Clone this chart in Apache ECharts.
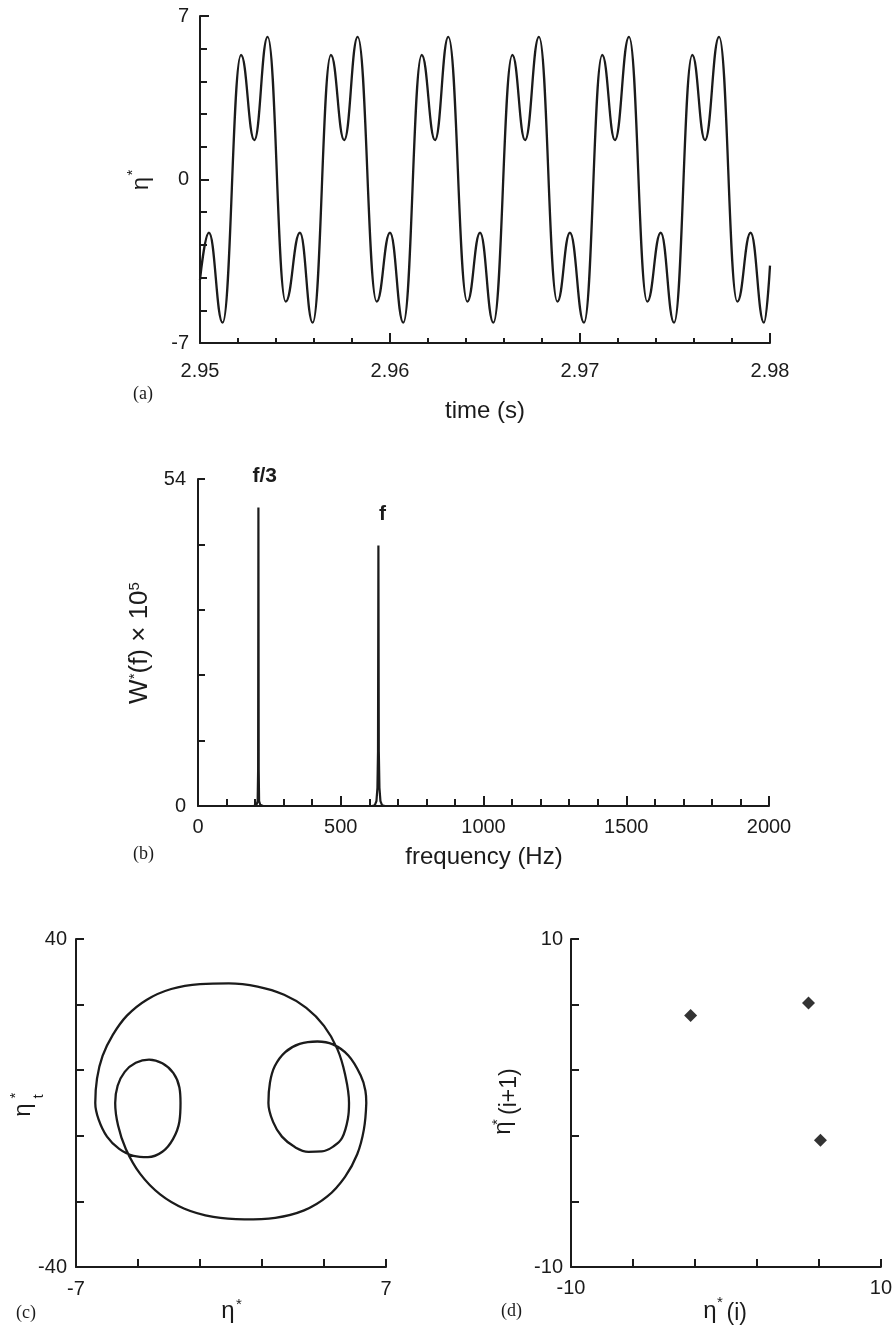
<!DOCTYPE html>
<html><head><meta charset="utf-8">
<script src="https://cdn.jsdelivr.net/npm/echarts@6/dist/echarts.min.js"></script>
<style>html,body{margin:0;padding:0;background:#fff}#main{width:895px;height:1331px}</style>
</head><body><div id="main"></div>
<script>
// ---------- Panel (a): time series, extrema ----------
const timeS = [2.95000, 2.95047, 2.95119, 2.95216, 2.95286, 2.95356, 2.95451, 2.95526, 2.95593,
  2.95689, 2.95759, 2.95830, 2.95930, 2.96000, 2.96070, 2.96167, 2.96237, 2.96307, 2.96407,
  2.96474, 2.96544, 2.96644, 2.96711, 2.96784, 2.96881, 2.96947, 2.97021, 2.97117, 2.97184,
  2.97258, 2.97354, 2.97425, 2.97495, 2.97591, 2.97658, 2.97732, 2.97828, 2.97898, 2.97968, 2.98000];
const etaA = [-4.3, -2.28, -6.13, 5.33, 1.69, 6.11, -5.23, -2.28, -6.13,
  5.33, 1.69, 6.11, -5.23, -2.28, -6.13, 5.33, 1.69, 6.11, -5.23,
  -2.28, -6.13, 5.33, 1.69, 6.11, -5.23, -2.28, -6.13, 5.33, 1.69,
  6.11, -5.23, -2.28, -6.13, 5.33, 1.69, 6.11, -5.23, -2.28, -6.13, -3.69];

// ---------- Panel (b): spectrum ----------
const freqHz = [0, 195, 205, 209, 210.6, 211.6, 212.6, 214, 218, 228,
  610, 619, 625, 628.5, 630.5, 631.9, 633.3, 635.5, 639, 645, 655, 2000];
const powerW = [0, 0, 0.2, 0.8, 6, 49.3, 6, 0.8, 0.2, 0,
  0, 0.1, 0.8, 3, 9, 43.0, 9, 3, 0.8, 0.1, 0, 0];
const peakLabels = ['f/3', 'f'];

// ---------- Panel (c): phase portrait (traced in drawing order) ----------
const phaseEta = [
  6.11, 6.00, 5.70, 5.15, 4.35, 3.30, 2.00, 0.60, -0.80, -2.10, -3.20, -4.10, -4.75, -5.10, -5.23,
  -5.12, -4.80, -4.30, -3.70, -3.10, -2.60, -2.33, -2.28,
  -2.33, -2.62, -3.10, -3.75, -4.40, -5.05, -5.60, -5.98, -6.13,
  -6.05, -5.80, -5.35, -4.70, -3.80, -2.70, -1.40, -0.10, 1.20, 2.40, 3.40, 4.20, 4.80, 5.15, 5.33,
  5.28, 5.02, 4.65, 4.10, 3.50, 2.90, 2.30, 1.90, 1.69,
  1.76, 1.98, 2.45, 3.10, 3.90, 4.60, 5.30, 5.85, 6.07, 6.11];
const phaseEtaT = [
  0, -6.5, -12.5, -18.0, -22.8, -26.2, -28.0, -28.4, -27.8, -25.8, -22.3, -17.3, -11.2, -5.5, 0,
  4.2, 7.6, 9.8, 10.6, 9.7, 7.3, 3.8, 0,
  -4.5, -8.8, -11.9, -13.2, -12.9, -11.2, -8.2, -4.0, 0,
  6.0, 11.5, 16.5, 21.3, 25.2, 27.8, 29.0, 29.2, 28.4, 26.4, 23.2, 18.8, 13.2, 7.0, 0,
  -3.8, -8.5, -10.5, -11.8, -11.9, -10.8, -8.2, -4.6, 0,
  5.0, 9.0, 12.4, 14.4, 15.0, 14.3, 11.6, 6.8, 3.0, 0];

// ---------- Panel (d): return map ----------
const mapEtaI  = [-2.28, 5.33, 6.10];
const mapEtaI1 = [5.33, 6.10, -2.27];

// ---------- Tick values / labels ----------
const cTicksX = [-7, -4.2, -1.4, 1.4, 4.2, 7];
const cLabelsX = [-7, 7];
const cTicksY = [-40, -24, -8, 8, 24, 40];
const cLabelsY = [-40, 40];
const dTicks = [-10, -6, -2, 2, 6, 10];
const dLabels = [-10, 10];

const INK = '#1b1b1b';
const FONT = 'Liberation Sans, Arial, sans-serif';
const SERIF = 'Liberation Serif, Times New Roman, serif';

function makeAxis(o) {
  const ax = {
    type: 'value', gridIndex: o.grid, min: o.min, max: o.max,
    axisLine: {show: true, onZero: false, lineStyle: {color: INK, width: 2}},
    axisTick: {show: true, inside: true, length: o.tickLen, lineStyle: {color: INK, width: 2}},
    axisLabel: {show: true, color: INK, fontFamily: FONT, fontSize: 20, margin: o.margin,
      formatter: v => String(parseFloat(Number(v).toFixed(4)))},
    splitLine: {show: false},
    minorSplitLine: {show: false}
  };
  if (o.interval != null) {
    ax.interval = o.interval;
    ax.minorTick = {show: true, splitNumber: 5, length: o.minorLen, lineStyle: {color: INK, width: 2}};
  }
  if (o.ticks) {
    ax.axisTick.customValues = o.ticks;
    ax.axisLabel.customValues = o.labels;
  }
  return ax;
}

function txt(x, y, text, font, rot, extra) {
  const style = Object.assign({text: text, font: font, fill: INK,
    textAlign: 'center', textVerticalAlign: 'middle', align: 'center', verticalAlign: 'middle'}, extra || {});
  return {type: 'text', x: x, y: y, rotation: rot || 0, silent: true, style: style};
}
const R = Math.PI / 2;

const option = {
  animation: false,
  backgroundColor: '#ffffff',
  grid: [
    {left: 200, top: 16, width: 570, height: 327},
    {left: 198, top: 479, width: 571, height: 327},
    {left: 76, top: 939, width: 310, height: 328},
    {left: 571, top: 939, width: 311, height: 328}
  ],
  xAxis: [
    makeAxis({grid: 0, min: 2.95, max: 2.98, interval: 0.01, tickLen: 10, minorLen: 5, margin: 18}),
    makeAxis({grid: 1, min: 0, max: 2000, interval: 500, tickLen: 10, minorLen: 7, margin: 11}),
    makeAxis({grid: 2, min: -7, max: 7, ticks: cTicksX, labels: cLabelsX, tickLen: 8, margin: 12}),
    makeAxis({grid: 3, min: -10, max: 10, ticks: dTicks, labels: dLabels, tickLen: 8, margin: 11})
  ],
  yAxis: [
    makeAxis({grid: 0, min: -7, max: 7, interval: 7, tickLen: 9, minorLen: 7, margin: 11}),
    makeAxis({grid: 1, min: 0, max: 54, interval: 54, tickLen: 7, minorLen: 7, margin: 12}),
    makeAxis({grid: 2, min: -40, max: 40, ticks: cTicksY, labels: cLabelsY, tickLen: 8, margin: 9}),
    makeAxis({grid: 3, min: -10, max: 10, ticks: dTicks, labels: dLabels, tickLen: 8, margin: 8})
  ],
  series: [
    {type: 'line', xAxisIndex: 0, yAxisIndex: 0, data: timeS.map((t, i) => [t, etaA[i]]),
      smooth: 0.45, smoothMonotone: 'x', symbol: 'none', silent: true,
      lineStyle: {color: INK, width: 2.3}},
    {type: 'line', xAxisIndex: 1, yAxisIndex: 1, data: freqHz.map((f, i) => [f, powerW[i]]),
      symbol: 'none', silent: true, lineStyle: {color: INK, width: 2.2}},
    {type: 'line', xAxisIndex: 2, yAxisIndex: 2, data: phaseEta.map((e, i) => [e, phaseEtaT[i]]),
      smooth: 0.4, symbol: 'none', silent: true, lineStyle: {color: INK, width: 2.3}},
    {type: 'scatter', xAxisIndex: 3, yAxisIndex: 3, data: mapEtaI.map((e, i) => [e, mapEtaI1[i]]),
      symbol: 'diamond', symbolSize: 13, silent: true, itemStyle: {color: '#000000'}}
  ],
  graphic: [
    // (a)
    txt(141, 183.5, 'η', '24px ' + FONT, R),
    txt(132.5, 172.5, '*', '15px ' + FONT, R),
    txt(485, 411, 'time (s)', '24px ' + FONT),
    txt(143, 394, '(a)', '18px ' + SERIF),
    // (b)
    txt(140, 643, '{n|W}{s|*}{n|(f) × 10}{s|5}', '26px ' + FONT, R, {
      rich: {n: {font: '26px ' + FONT, fill: INK}, s: {font: '15px ' + FONT, fill: INK, verticalAlign: 'top'}}
    }),
    txt(264.7, 476, peakLabels[0], 'bold 21px ' + FONT),
    txt(382.5, 514, peakLabels[1], 'bold 21px ' + FONT),
    txt(484, 857, 'frequency (Hz)', '24px ' + FONT),
    txt(143.5, 854, '(b)', '18px ' + SERIF),
    // (c)
    txt(23.3, 1110, 'η', '24px ' + FONT, R),
    txt(15.5, 1095.5, '*', '15px ' + FONT, R),
    txt(38.4, 1096.5, 't', '15px ' + FONT, R),
    txt(228, 1311, 'η', '24px ' + FONT),
    txt(239, 1305, '*', '15px ' + FONT),
    txt(26, 1313, '(c)', '18px ' + SERIF),
    // (d)
    txt(503, 1128, 'η', '24px ' + FONT, R),
    txt(498, 1122, '*', '15px ' + FONT, R),
    txt(510, 1091.7, '(i+1)', '23px ' + FONT, R),
    txt(710, 1311, 'η', '24px ' + FONT),
    txt(720, 1303, '*', '15px ' + FONT),
    txt(736.7, 1314, '(i)', '23px ' + FONT),
    txt(511.5, 1311.5, '(d)', '18px ' + SERIF)
  ]
};

const chart = echarts.init(document.getElementById('main'), null, {renderer: 'canvas'});
chart.setOption(option);
</script>
</body></html>
